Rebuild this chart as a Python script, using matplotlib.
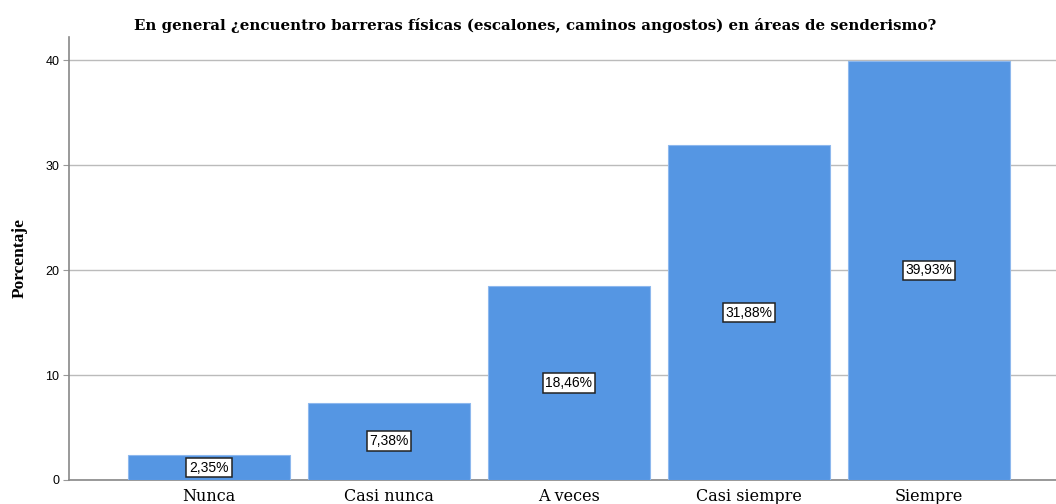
import matplotlib
matplotlib.use("Agg")
import matplotlib.pyplot as plt
import numpy as np

categorias = ["Nunca", "Casi nunca", "A veces", "Casi siempre", "Siempre"]
porcentajes = [2.35, 7.38, 18.46, 31.88, 39.93]
etiquetas = ["2,35%", "7,38%", "18,46%", "31,88%", "39,93%"]
yticks = [0, 10, 20, 30, 40]

fig = plt.figure(figsize=(10.56, 5.04), dpi=100)
ax = fig.add_axes([69 / 1056, 24 / 504, 1 - 69 / 1056, (480 - 37) / 504])

x = np.arange(len(categorias))
ax.bar(x, porcentajes, width=0.9, color="#5596E3", edgecolor="#8DB8EE", linewidth=0.8, zorder=3)

for xi, v, t in zip(x, porcentajes, etiquetas):
    ax.text(xi, v / 2, t, ha="center", va="center", fontsize=10, family="Liberation Sans",
            bbox=dict(boxstyle="square,pad=0.2", fc="white", ec="#222222", lw=1.1), zorder=4)

ax.set_xlim(-0.778, 4.706)
ax.set_ylim(0, 42.2)
ax.set_yticks(yticks)
ax.set_yticklabels([str(t) for t in yticks], family="Liberation Sans", fontsize=9)
ax.set_xticks(x)
ax.set_xticklabels(categorias, family="DejaVu Serif", fontsize=11.5)
ax.tick_params(axis="x", length=0, pad=6)
ax.tick_params(axis="y", length=4, color="#999999", pad=3)
ax.yaxis.grid(True, color="#BBBBBB", linewidth=1.0, zorder=0)

for s in ["top", "right"]:
    ax.spines[s].set_visible(False)
for s in ["left", "bottom"]:
    ax.spines[s].set_color("#888888")
    ax.spines[s].set_linewidth(1.2)

ax.set_ylabel("Porcentaje", family="Liberation Serif", fontweight="bold", fontsize=12.5, labelpad=13)
fig.text(0.507, 0.95, "En general ¿encuentro barreras físicas (escalones, caminos angostos) en áreas de senderismo?",
         ha="center", va="center", family="DejaVu Serif", fontweight="bold", fontsize=10.85)

fig.savefig("out.png", dpi=100)
